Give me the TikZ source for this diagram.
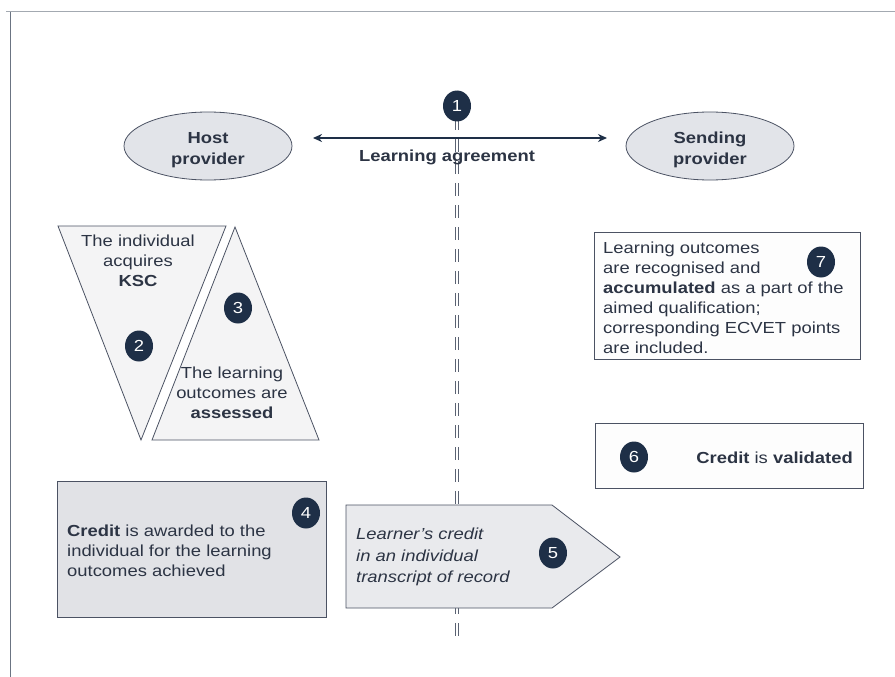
\documentclass[tikz,border=0pt]{standalone}
\usepackage{fontspec}
\setmainfont[FakeStretch=1.15]{Liberation Sans}
\usetikzlibrary{arrows.meta,shapes.geometric}
\definecolor{navy}{HTML}{1E2F47}
\definecolor{txt}{HTML}{2C3444}
\definecolor{bord}{HTML}{4B5263}
\definecolor{ellfill}{HTML}{E2E4E9}
\definecolor{boxfour}{HTML}{E1E2E6}
\definecolor{boxfive}{HTML}{E9EAED}
\definecolor{trifill}{HTML}{F4F4F5}
\definecolor{boxwhite}{HTML}{FDFDFD}
\definecolor{frametop}{HTML}{A3A9B1}
\definecolor{frameleft}{HTML}{6B7482}
\definecolor{vline}{HTML}{5A6272}
\tikzset{
  txtfont/.style={font=\fontsize{16}{20}\selectfont, text=txt, inner sep=0pt},
  provider/.style={ellipse, draw=bord, line width=0.8pt, fill=ellfill, minimum width=168pt, minimum height=68pt, inner sep=0pt},
  provlabel/.style={align=center, inner sep=0pt, font=\fontsize{16}{21}\selectfont\bfseries, text=txt},
  num/.style={ellipse, fill=navy, text=white, minimum width=28pt, minimum height=31pt, inner sep=0pt, font=\fontsize{16}{18}\selectfont},
  panel/.style={draw=bord, line width=0.8pt, rectangle, inner sep=0pt},
}
\begin{document}
\begin{tikzpicture}[x=1pt,y=-1pt]
\useasboundingbox (0,0) rectangle (895,677);
% frame
\draw[frametop, line width=1pt] (6,11.7) -- (895,11.7);
\draw[frameleft, line width=1pt] (10,11.7) -- (10,677);

% vertical double dashed line
\coordinate (vtop) at (457,95);
\coordinate (vend) at (457,637);
\draw[vline, line width=1pt, double=white, double distance=1.8pt, dash pattern=on 13pt off 9pt] (vtop) -- (vend);

% providers
\node[provider] (host) at (208,146) {};
\node[provlabel] (hostlbl) at (208,150) {Host\\provider};
\node[provider] (send) at (710,146) {};
\node[provlabel] (sendlbl) at (710,150) {Sending\\provider};

% learning agreement arrow
\coordinate (la) at (313,138);
\coordinate (ra) at (607,138);
\draw[navy, line width=2.5pt, {Stealth[length=9pt,width=8pt]}-{Stealth[length=9pt,width=8pt]}] (la) -- (ra);
\node[txtfont, font=\fontsize{16}{20}\selectfont\bfseries] (lagr) at (447,157) {Learning agreement};
\node[num] (c1) at (457,106) {1};

% triangles
\draw[bord, line width=0.8pt, fill=trifill] (58,226) -- (226,226) -- (141,440) -- cycle;
\draw[bord, line width=0.8pt, fill=trifill] (235,227) -- (319,440) -- (152,440) -- cycle;
\node[txtfont, align=center] (t2) at (138,261) {The individual\\acquires\\\textbf{KSC}};
\node[num] (c2) at (139,346) {2};
\node[num] (c3) at (238,308) {3};
\node[txtfont, align=center] (t3) at (232,393) {The learning\\outcomes are\\\textbf{assessed}};

% box 4
\node[panel, fill=boxfour, minimum width=269pt, minimum height=136pt] (b4) at (191.5,549) {};
\node[num] (c4) at (306,513) {4};
\node[txtfont, align=left, anchor=west] (t4) at (67,551) {\textbf{Credit} is awarded to the\\individual for the learning\\outcomes achieved};

% box 5 (arrow shape)
\coordinate (p1) at (346,505);
\coordinate (p2) at (552,505);
\coordinate (p3) at (620,557);
\coordinate (p4) at (552,608);
\coordinate (p5) at (346,608);
\draw[bord, line width=0.8pt, fill=boxfive] (p1) -- (p2) -- (p3) -- (p4) -- (p5) -- cycle;
\node[txtfont, align=left, anchor=west, font=\fontsize{16}{21.5}\selectfont\itshape] (t5) at (356,557) {Learner's credit\\in an individual\\transcript of record};
\node[num] (c5) at (553,553) {5};

% box 7
\node[panel, fill=boxwhite, minimum width=266pt, minimum height=127pt] (b7) at (727,295.5) {};
\node[txtfont, align=left, anchor=west] (t7) at (603,298) {Learning outcomes\\are recognised and\\\textbf{accumulated} as a part of the\\aimed qualification;\\corresponding ECVET points\\are included.};
\node[num] (c7) at (821,262) {7};

% box 6
\node[panel, fill=boxwhite, minimum width=268pt, minimum height=65pt] (b6) at (729,456) {};
\node[num] (c6) at (634,457) {6};
\node[txtfont, anchor=east] (t6) at (853,458) {\textbf{Credit} is \textbf{validated}};
\end{tikzpicture}
\end{document}
